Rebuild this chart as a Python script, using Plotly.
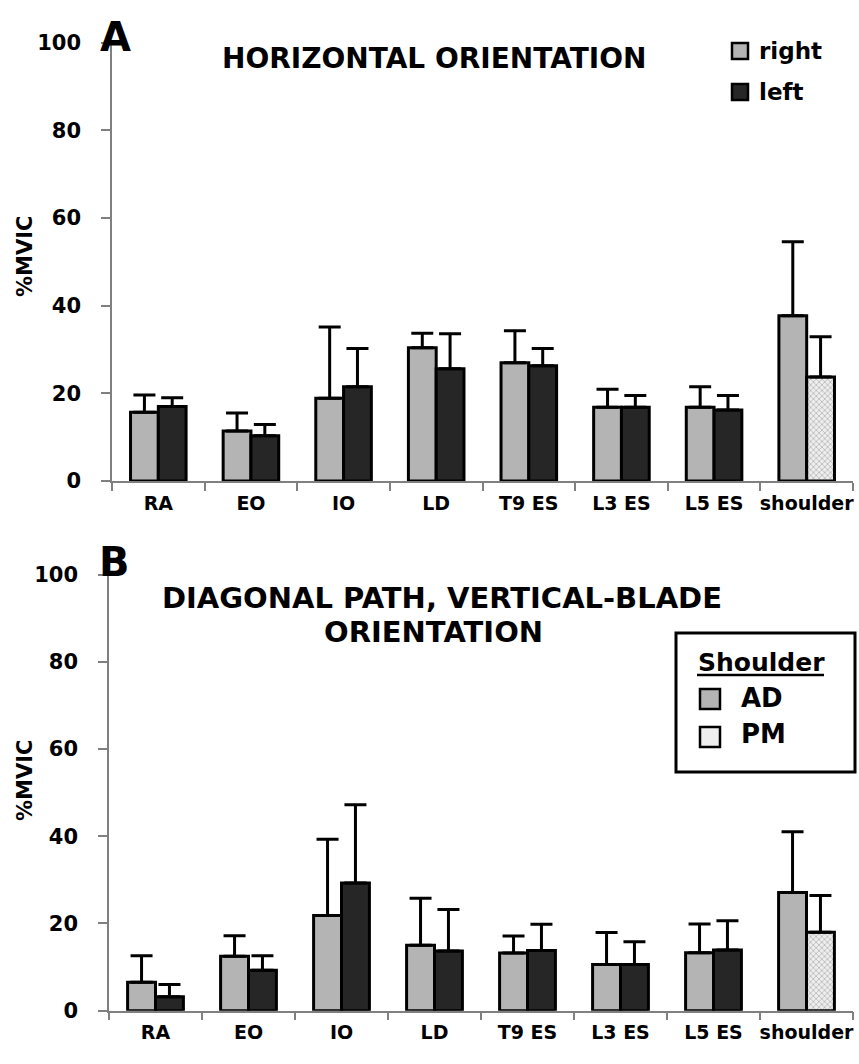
"""
Trunk and shoulder muscle activity (%MVIC), two paddle orientations.
"""

import plotly.graph_objects as go


# ==============================
# Data
# ==============================

muscles = ["RA", "EO", "IO", "LD", "T9 ES", "L3 ES", "L5 ES", "shoulder"]

# A - horizontal orientation
a_right = [15.7, 11.4, 18.9, 30.4, 27.0, 16.8, 16.8, 37.7]
a_right_sd = [3.9, 4.1, 16.2, 3.3, 7.3, 4.1, 4.7, 16.9]
a_left = [17.0, 10.3, 21.5, 25.6, 26.3, 16.8, 16.2, 23.7]
a_left_sd = [2.0, 2.6, 8.7, 8.0, 3.9, 2.7, 3.3, 9.2]

# B - diagonal path, vertical-blade orientation
b_right = [6.5, 12.5, 21.8, 15.0, 13.2, 10.6, 13.3, 27.1]
b_right_sd = [6.1, 4.7, 17.5, 10.8, 3.9, 7.3, 6.6, 13.9]
b_left = [3.2, 9.3, 29.3, 13.7, 13.8, 10.6, 13.9, 18.0]
b_left_sd = [2.8, 3.3, 17.9, 9.5, 6.0, 5.2, 6.7, 8.4]

y_ticks = [0, 20, 40, 60, 80, 100]


# ==============================
# Styling helpers
# ==============================

W, H = 859, 1064
FONT = "DejaVu Sans"
LIGHT = "#b4b4b4"
DARK = "#262626"
PM_BG = "#eeeeee"


def px(x):
    return x / W


def py(y):
    return 1 - y / H


def err(sd):
    return dict(
        type="data",
        symmetric=False,
        array=sd,
        arrayminus=[0] * len(sd),
        color="black",
        thickness=3,
        width=11,
    )


left_colors = [DARK] * 7 + [PM_BG]
left_pattern = dict(
    shape=[""] * 7 + ["x"],
    fillmode="overlay",
    fgcolor="#9c9c9c",
    size=4,
    solidity=0.25,
)


def add_panel(fig, right, right_sd, left, left_sd, xa, ya):
    fig.add_trace(go.Bar(
        x=muscles, y=right, name="right",
        marker=dict(color=LIGHT, line=dict(color="black", width=3)),
        error_y=err(right_sd),
        xaxis=xa, yaxis=ya, showlegend=False,
    ))
    fig.add_trace(go.Bar(
        x=muscles, y=left, name="left",
        marker=dict(color=left_colors, pattern=left_pattern,
                    line=dict(color="black", width=3)),
        error_y=err(left_sd),
        xaxis=xa, yaxis=ya, showlegend=False,
    ))


fig = go.Figure()
add_panel(fig, a_right, a_right_sd, a_left, a_left_sd, "x", "y")
add_panel(fig, b_right, b_right_sd, b_left, b_left_sd, "x2", "y2")

yaxis_style = dict(
    range=[0, 100],
    tickvals=y_ticks,
    ticks="outside",
    ticklen=9,
    tickwidth=1.5,
    tickcolor="#808080",
    showline=True,
    linecolor="#808080",
    linewidth=1.5,
    showgrid=False,
    zeroline=False,
    automargin=False,
    ticklabelstandoff=16,
    tickfont=dict(family=FONT, size=21, color="black", weight="bold"),
)

xaxis_style = dict(
    type="category",
    tickson="boundaries",
    ticks="outside",
    ticklen=8,
    tickwidth=1.5,
    tickcolor="#808080",
    tickangle=0,
    showline=True,
    linecolor="#808080",
    linewidth=1.5,
    showgrid=False,
    automargin=False,
    ticklabelstandoff=4,
    tickfont=dict(family=FONT, size=19, color="black", weight="bold"),
)

fig.update_layout(
    width=W,
    height=H,
    margin=dict(l=0, r=0, t=0, b=0),
    paper_bgcolor="white",
    plot_bgcolor="white",
    barmode="group",
    bargap=0.4,
    bargroupgap=0,
    showlegend=False,
    xaxis=dict(domain=[px(112), px(853)], anchor="y", **xaxis_style),
    yaxis=dict(domain=[py(481), py(42.6)], anchor="x", **yaxis_style),
    xaxis2=dict(domain=[px(109), px(853)], anchor="y2", **xaxis_style),
    yaxis2=dict(domain=[py(1010.7), py(574.5)], anchor="x2", **yaxis_style),
)


# ==============================
# Titles, panel letters, axis titles
# ==============================

def label(text, x, y, size, xanchor="center", angle=0):
    fig.add_annotation(
        text=text, x=px(x), y=py(y), xref="paper", yref="paper",
        xanchor=xanchor, yanchor="middle", showarrow=False,
        textangle=angle,
        font=dict(family=FONT, size=size, color="black", weight="bold"),
    )


label("A", 115, 37, 40)
label("B", 114, 562, 40)
label("HORIZONTAL ORIENTATION", 434, 58, 28)
label("DIAGONAL PATH, VERTICAL-BLADE", 442, 598, 29)
label("ORIENTATION", 433, 632, 29)
label("%MVIC", 25, 257, 21, angle=-90)
label("%MVIC", 25, 781, 21, angle=-90)


# ==============================
# Legends
# ==============================

def swatch(x0, y0, size, color, width=2.5):
    fig.add_shape(
        type="rect", xref="paper", yref="paper",
        x0=px(x0), x1=px(x0 + size), y0=py(y0 + size), y1=py(y0),
        fillcolor=color, line=dict(color="black", width=width),
    )


swatch(732, 43, 16, LIGHT)
swatch(732, 84, 16, DARK)
label("right", 757, 51, 23, xanchor="left")
label("left", 757, 92, 23, xanchor="left")

fig.add_shape(
    type="rect", xref="paper", yref="paper",
    x0=px(676), x1=px(855), y0=py(772), y1=py(633),
    line=dict(color="black", width=3), fillcolor="white",
)
label("Shoulder", 696, 662, 25, xanchor="left")
fig.add_shape(
    type="line", xref="paper", yref="paper",
    x0=px(697), x1=px(824), y0=py(675), y1=py(675),
    line=dict(color="black", width=2.5),
)
swatch(700, 689, 20, LIGHT)
swatch(700, 727, 20, PM_BG)
label("AD", 739, 698, 26, xanchor="left")
label("PM", 739, 734, 26, xanchor="left")

# drop the default page margin so the 859x1064 figure fills the window
fig.write_html(
    "out.html",
    config={"displayModeBar": False},
    post_script="document.body.style.margin='0px';",
)
